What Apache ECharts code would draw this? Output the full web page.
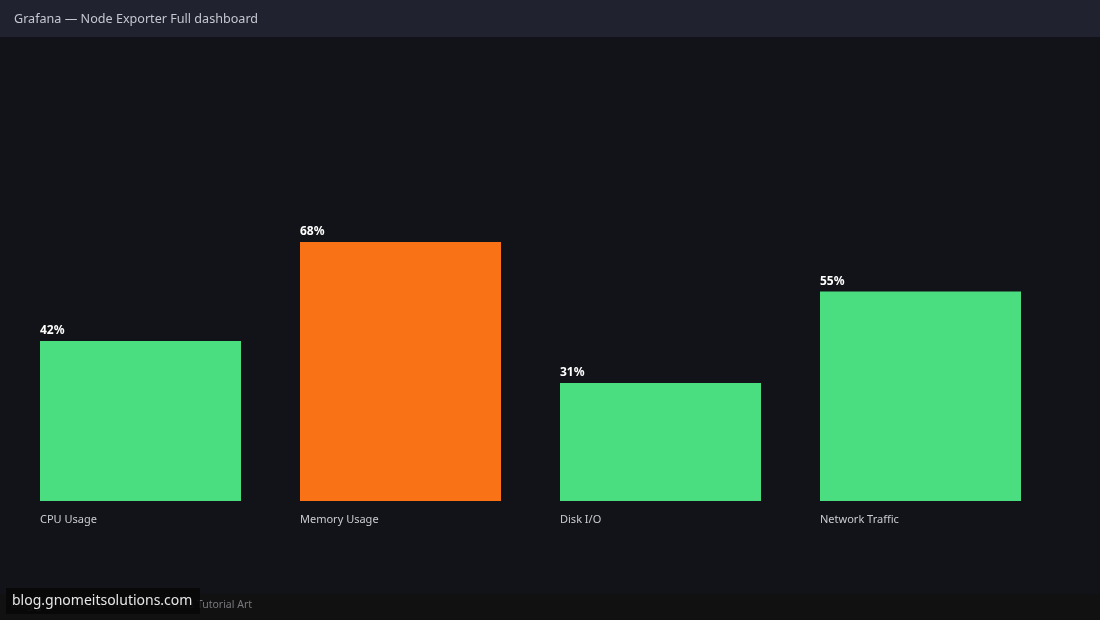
<!DOCTYPE html>
<html><head><meta charset="utf-8">
<script src="https://cdn.jsdelivr.net/npm/echarts@6/dist/echarts.min.js"></script>
<style>html,body{margin:0;padding:0;background:#121318;}#c{width:1100px;height:620px;}</style>
</head><body><div id="c"></div>
<script>
const categories = ['CPU Usage', 'Memory Usage', 'Disk I/O', 'Network Traffic'];
const values = [42, 68, 31, 55];
const barColors = ['#4ade80', '#f97316', '#4ade80', '#4ade80'];
const titleText = 'Grafana — Node Exporter Full dashboard';
const footerText = 'blog.gnomeitsolutions.com · Grafana Tutorial Art';
const watermarkText = 'blog.gnomeitsolutions.com';

const chart = echarts.init(document.getElementById('c'), null, {renderer: 'canvas'});
const FONT = '"Noto Sans", "Open Sans", sans-serif';
chart.setOption({
  backgroundColor: '#121318',
  animation: false,
  textStyle: {fontFamily: FONT},
  grid: {left: 10.5, right: 49.5, top: 120, bottom: 119, containLabel: false},
  xAxis: {
    type: 'category', data: categories,
    axisLine: {show: false}, axisTick: {show: false}, splitLine: {show: false},
    axisLabel: {
      margin: 13, color: '#c9ccd2', fontSize: 11, fontFamily: FONT,
      formatter: '{a|{value}}',
      rich: {a: {width: 201, align: 'left', color: '#c9ccd2', fontSize: 11, fontFamily: FONT}}
    }
  },
  yAxis: {type: 'value', min: 0, max: 100, show: false, splitLine: {show: false}},
  series: [{
    type: 'bar', barWidth: 201,
    data: values.map((v, i) => ({value: v, itemStyle: {color: barColors[i]}})),
    label: {
      show: true, position: [0, -4], align: 'left', verticalAlign: 'bottom',
      formatter: '{c}%', color: '#ffffff', fontSize: 12, fontWeight: 'bold', fontFamily: FONT
    }
  }],
  graphic: [
    {type: 'rect', left: 0, top: 0, shape: {width: 1100, height: 37}, style: {fill: '#20232f'}, z: 10},
    {type: 'text', left: 14, top: 13, style: {text: titleText, fill: '#c4c8d0', font: '12.6px ' + FONT}, z: 11},
    {type: 'rect', left: 0, top: 594, shape: {width: 1100, height: 26}, style: {fill: '#111111'}, z: 10},
    {type: 'text', left: 11, top: 600, style: {text: footerText, fill: '#77797e', font: '10.5px ' + FONT}, z: 11},
    {type: 'rect', left: 6, top: 588, shape: {width: 194, height: 26}, style: {fill: 'rgba(8,8,9,0.92)'}, z: 12},
    {type: 'text', left: 12, top: 594, style: {text: watermarkText, fill: '#e6e6e6', font: '14px ' + FONT}, z: 13}
  ]
});
</script></body></html>
